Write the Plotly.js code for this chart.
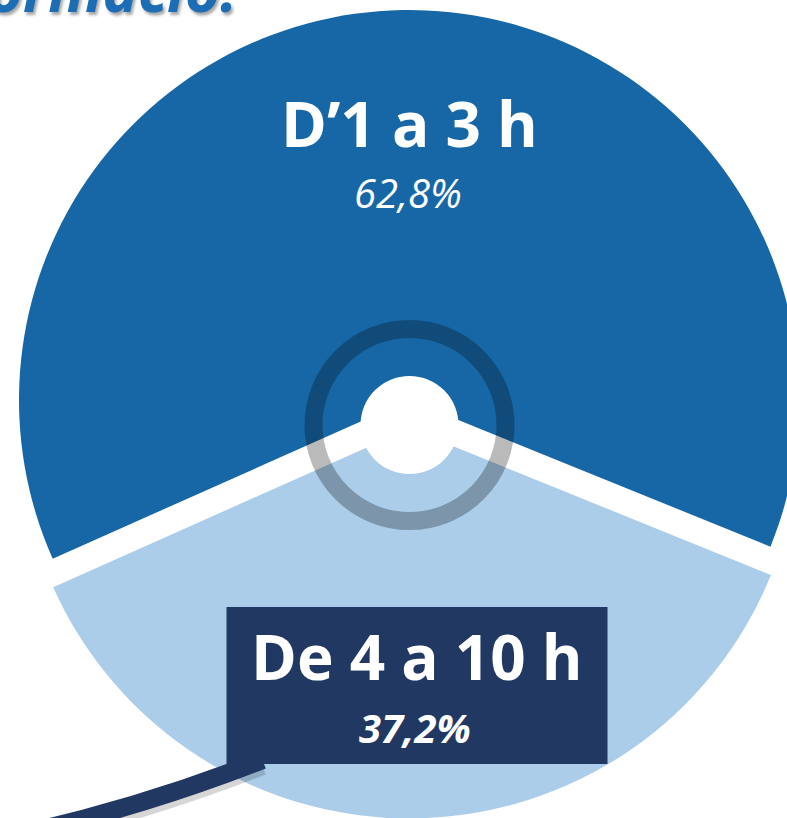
<!DOCTYPE html>
<html>
<head>
<meta charset="utf-8">
<script src="https://cdn.plot.ly/plotly-3.0.1.min.js"></script>
<style>
  html, body { margin: 0; padding: 0; width: 787px; height: 818px; overflow: hidden; background: #fff; }
  #chart { position: absolute; left: -9.5px; top: 0px; width: 837px; height: 847px; }
</style>
</head>
<body>
<div id="chart"></div>
<script>
// ---- data ----
const categories = ["D\u20191 a 3 h", "De 4 a 10 h"];
const values = [62.8, 37.2];
const sliceColors = ["#1767a6", "#abcde9"];
const titleText = "Hores de formació:";

// ---- geometry helpers (page pixels -> paper) ----
const OFFX = -9.5, OFFY = 0, W = 837, H = 847, MT = 10;
const PH = H - MT;
const px = x => (x - OFFX) / W;
const py = y => 1 - (y - OFFY - MT) / PH;
const fmt = v => v.toFixed(1).replace('.', ',') + '%';

const navy = "#213863";
const FONT = "Open Sans, Noto Sans, sans-serif";

const trace = {
  type: 'pie',
  labels: categories,
  values: values,
  sort: false,
  direction: 'clockwise',
  rotation: 246,
  pull: [0.073, 0],
  hole: 0,
  marker: { colors: sliceColors, line: { width: 0 } },
  textinfo: 'none',
  hoverinfo: 'skip',
  showlegend: false,
  domain: { x: [0, 1], y: [0, 1] }
};

function circle(cx, cy, r, style) {
  return Object.assign({
    type: 'circle', xref: 'paper', yref: 'paper',
    x0: px(cx - r), x1: px(cx + r), y0: py(cy + r), y1: py(cy - r),
    layer: 'above'
  }, style);
}
function qpath(p0, c, p1) {
  return 'M ' + px(p0[0]) + ',' + py(p0[1]) + ' Q ' + px(c[0]) + ',' + py(c[1]) + ' ' + px(p1[0]) + ',' + py(p1[1]);
}

const shapes = [
  circle(409, 425, 49, { fillcolor: '#ffffff', line: { width: 0 } }),
  circle(409, 425, 96, { fillcolor: 'rgba(0,0,0,0)', line: { color: 'rgba(0,0,0,0.27)', width: 18 } }),
  { type: 'path', xref: 'paper', yref: 'paper', layer: 'above',
    path: qpath([30, 838], [150, 810], [262, 766]),
    line: { color: 'rgba(0,0,0,0.16)', width: 18 } },
  { type: 'path', xref: 'paper', yref: 'paper', layer: 'above',
    path: qpath([30, 832], [150, 804], [262, 760]),
    line: { color: navy, width: 18 } },
  { type: 'rect', xref: 'paper', yref: 'paper', layer: 'above',
    x0: px(226), x1: px(607), y0: py(764), y1: py(607),
    fillcolor: navy, line: { width: 0 } }
];

const annotations = [
  { text: titleText, xref: 'paper', yref: 'paper', x: px(238), y: py(-11), xanchor: 'right', yanchor: 'middle',
    showarrow: false, font: { family: FONT, size: 60, color: '#1c6db3', weight: 'bold', style: 'italic',
    shadow: '2px 3px 3px rgba(0,0,0,0.35)' } },
  { text: categories[0], xref: 'paper', yref: 'paper', x: px(408.5), y: py(123), xanchor: 'center', yanchor: 'middle',
    showarrow: false, font: { family: FONT, size: 62, color: '#ffffff', weight: 'bold' } },
  { text: fmt(values[0]), xref: 'paper', yref: 'paper', x: px(407), y: py(193), xanchor: 'center', yanchor: 'middle',
    showarrow: false, font: { family: FONT, size: 40, color: '#ffffff', style: 'italic' } },
  { text: categories[1], xref: 'paper', yref: 'paper', x: px(416), y: py(656), xanchor: 'center', yanchor: 'middle',
    showarrow: false, font: { family: FONT, size: 62, color: '#ffffff', weight: 'bold' } },
  { text: fmt(values[1]), xref: 'paper', yref: 'paper', x: px(414), y: py(727), xanchor: 'center', yanchor: 'middle',
    showarrow: false, font: { family: FONT, size: 40, color: '#ffffff', weight: 'bold', style: 'italic' } }
];

const layout = {
  width: W, height: H,
  margin: { l: 0, r: 0, t: MT, b: 0, pad: 0 },
  paper_bgcolor: '#ffffff',
  plot_bgcolor: '#ffffff',
  showlegend: false,
  shapes: shapes,
  annotations: annotations
};

Plotly.newPlot('chart', [trace], layout, { staticPlot: true, displayModeBar: false, responsive: false });
</script>
</body>
</html>
